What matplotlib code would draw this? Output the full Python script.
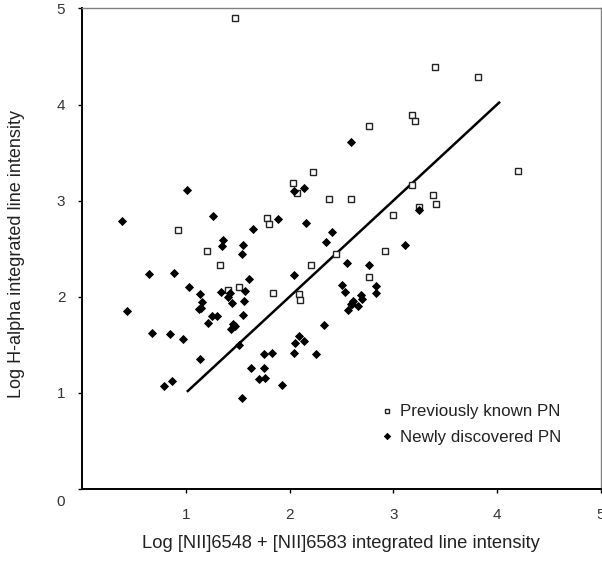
import matplotlib
matplotlib.use('Agg')
import matplotlib.pyplot as plt
import matplotlib.transforms as mtransforms

plt.rcParams['font.family'] = ['Liberation Sans', 'DejaVu Sans']

# previously known PN (open squares)
known_x = [1.47, 3.40, 3.82, 3.18, 3.21, 2.77, 2.23, 4.20, 3.18, 2.38, 2.59,
           3.38, 3.41, 3.25, 3.00, 2.92, 2.45, 2.21, 2.77, 2.03, 2.07, 0.93,
           1.78, 1.80, 1.20, 1.33, 1.41, 1.51, 1.84, 2.09, 2.10]
known_y = [4.90, 4.39, 4.29, 3.89, 3.83, 3.78, 3.30, 3.31, 3.16, 3.02, 3.02,
           3.06, 2.97, 2.93, 2.85, 2.48, 2.45, 2.33, 2.21, 3.18, 3.08, 2.69,
           2.82, 2.76, 2.48, 2.33, 2.07, 2.10, 2.04, 2.03, 1.97]

# newly discovered PN (filled diamonds)
new_x = [0.385, 1.01, 1.26, 1.36, 1.35, 1.55, 1.54, 1.65, 1.89, 2.04, 0.65,
         0.89, 1.61, 2.04, 2.59, 2.14, 2.16, 2.41, 2.35, 3.25, 3.11, 2.55,
         2.77, 2.51, 2.53, 1.34, 1.43, 1.41, 1.57, 0.43, 0.67, 0.85, 0.97,
         1.03, 1.14, 1.16, 1.13, 1.15, 1.25, 1.30, 1.21, 1.45, 1.56, 1.55,
         1.44, 1.47, 1.46, 1.14, 1.51, 0.79, 0.87, 1.54, 1.63, 1.75, 1.83,
         1.75, 1.71, 1.76, 1.93, 2.04, 2.05, 2.09, 2.14, 2.26, 2.33, 2.60,
         2.56, 2.83, 2.83, 2.69, 2.70, 2.66, 2.61, 2.59]
new_y = [2.79, 3.11, 2.84, 2.59, 2.53, 2.54, 2.45, 2.70, 2.81, 3.10, 2.24,
         2.25, 2.19, 2.23, 3.61, 3.13, 2.77, 2.67, 2.57, 2.90, 2.54, 2.35,
         2.33, 2.12, 2.05, 2.05, 2.04, 2.00, 2.06, 1.85, 1.62, 1.61, 1.56,
         2.10, 2.03, 1.95, 1.87, 1.88, 1.80, 1.80, 1.73, 1.94, 1.96, 1.81,
         1.67, 1.70, 1.72, 1.35, 1.50, 1.07, 1.12, 0.95, 1.26, 1.40, 1.42,
         1.26, 1.14, 1.15, 1.08, 1.42, 1.52, 1.59, 1.54, 1.40, 1.71, 1.93,
         1.86, 2.11, 2.04, 2.02, 1.98, 1.90, 1.96, 1.92]

# 1:1 line
fit_x = [1.02, 4.02]
fit_y = [1.02, 4.02]

fig = plt.figure(figsize=(6.02, 5.61), dpi=100)
ax = fig.add_axes([0.1362, 0.1283, 0.8618, 0.8567])

ax.plot(fit_x, fit_y, color='black', lw=1.8, zorder=2)
ax.plot(known_x, known_y, ls='none', marker='s', ms=4.3, mfc='white',
        mec='#222222', mew=1.0, label='Previously known PN', zorder=3)
ax.plot(new_x, new_y, ls='none', marker='D', ms=4.0, mfc='black',
        mec='black', mew=0.6, label='Newly discovered PN', zorder=4)

ax.set_xlim(0, 5)
ax.set_ylim(0, 5)
ax.set_xticks([1, 2, 3, 4, 5])
ax.set_yticks([0, 1, 2, 3, 4, 5])

for s in ['left', 'bottom']:
    ax.spines[s].set_color('black')
    ax.spines[s].set_linewidth(1.4)
for s in ['top', 'right']:
    ax.spines[s].set_color('#808080')
    ax.spines[s].set_linewidth(1.0)

ax.tick_params(axis='both', direction='out', length=3, width=1,
               labelsize=11, labelcolor='#333333')
ax.tick_params(axis='x', pad=11)
ax.tick_params(axis='y', pad=9)

# the 0 label sits a little below the origin
lbl0 = ax.get_yticklabels()[0]
lbl0.set_transform(lbl0.get_transform() +
                   mtransforms.ScaledTranslation(0, -11 / 100, fig.dpi_scale_trans))

ax.set_xlabel('Log [NII]6548 + [NII]6583 integrated line intensity',
              fontsize=13.2, color='#222222', labelpad=9)
ax.set_ylabel('Log H-alpha integrated line intensity',
              fontsize=13, color='#222222')
ax.yaxis.set_label_coords(-0.110, 0.490)

ax.legend(loc='upper left', bbox_to_anchor=(0.574, 0.176), frameon=False,
          fontsize=12.2, handlelength=0.8, handletextpad=0.4, labelspacing=0.6,
          borderpad=0, borderaxespad=0, labelcolor='#222222', markerscale=0.8)

fig.savefig('out.png', dpi=100)
